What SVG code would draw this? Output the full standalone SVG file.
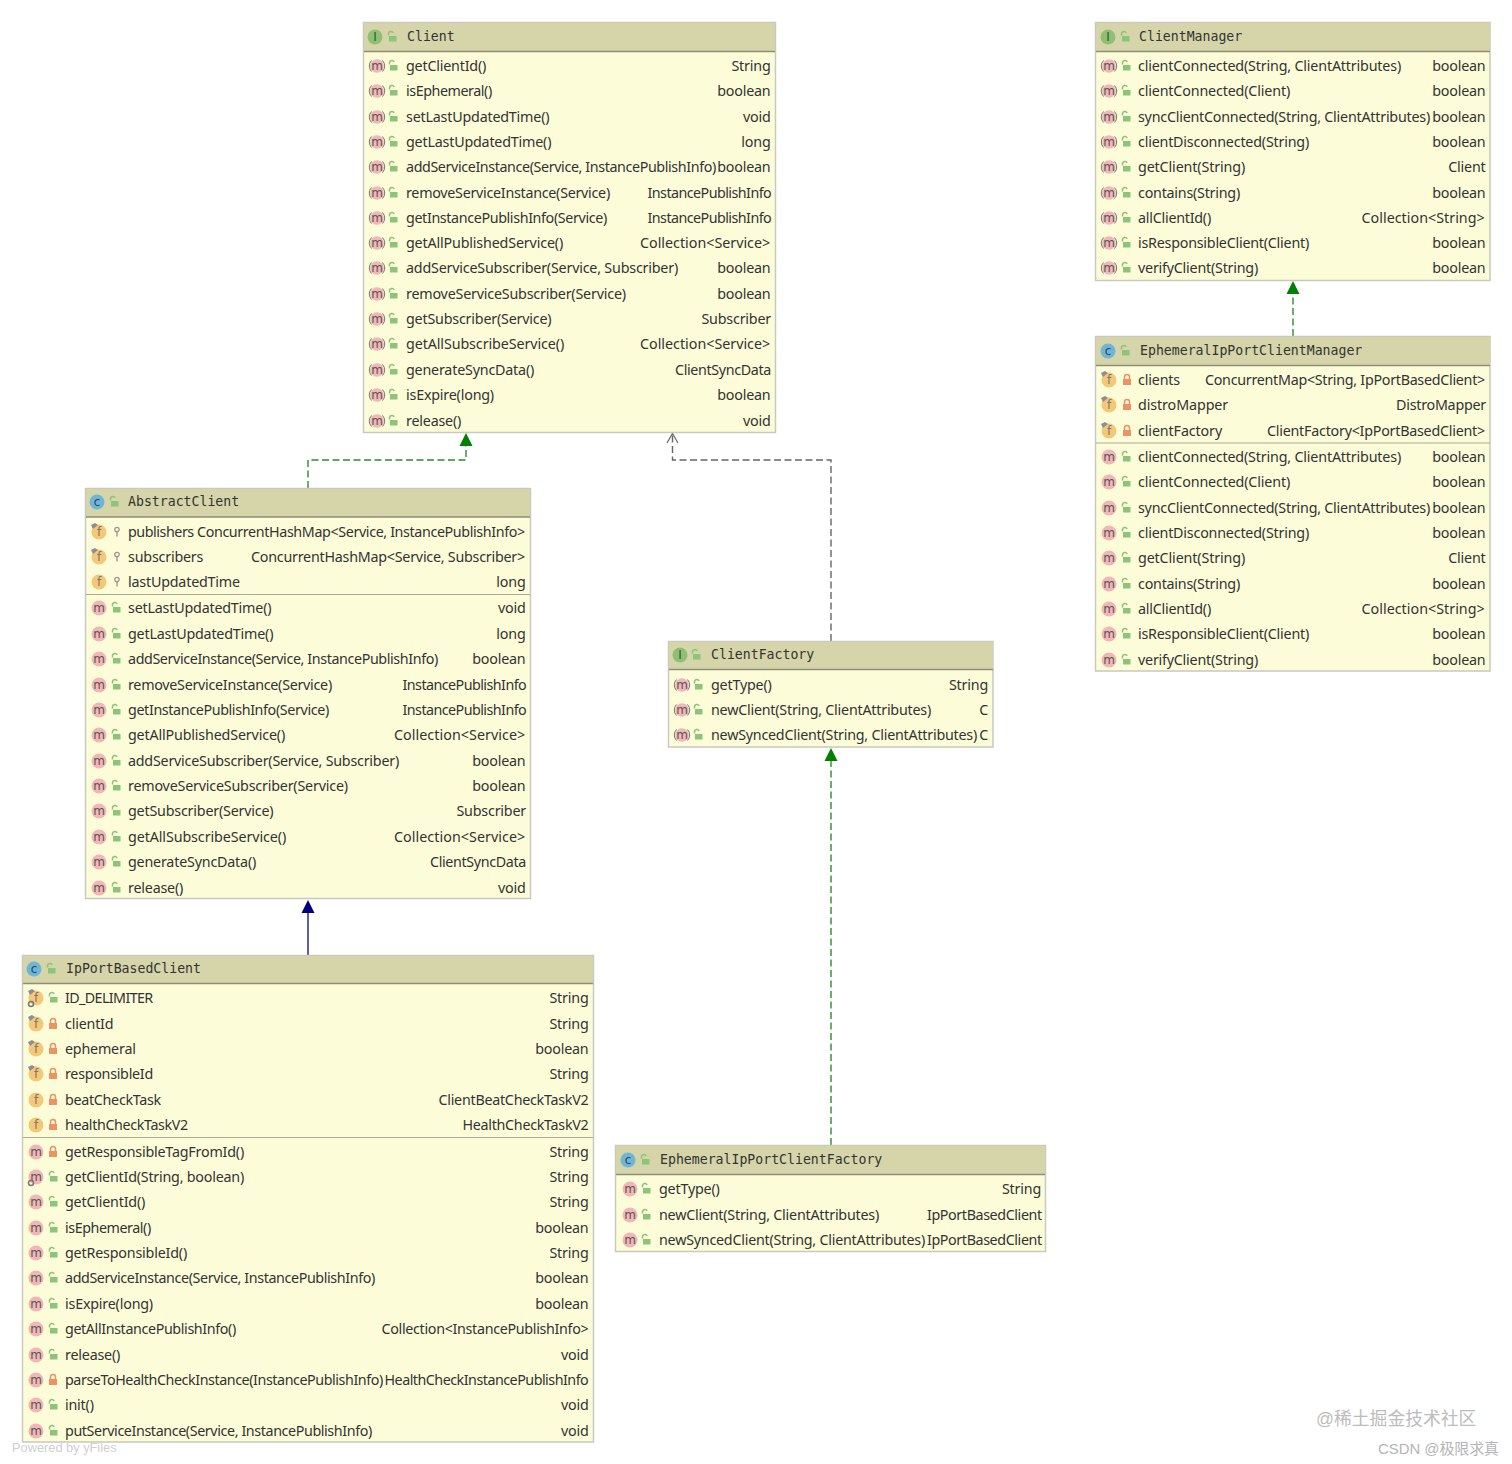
<svg xmlns="http://www.w3.org/2000/svg" width="1512" height="1464" viewBox="0 0 1512 1464">
<style>
.box{fill:#fcfcd8;stroke:#c9c9c0;stroke-width:1.5}
.hd{fill:#d5d5a9}
.ln{stroke:#8e8e7a;stroke-width:1.5}
.sep{stroke:#a9a99c;stroke-width:1.2}
.h{font:13.2px "DejaVu Sans Mono",monospace;fill:#333}
.n,.t{font:14.3px "Noto Sans","Liberation Sans",sans-serif;fill:#333;letter-spacing:-.2px}
.t{text-anchor:end}
.ic{font:12px "DejaVu Sans",sans-serif;text-anchor:middle}
.c{fill:none;stroke-width:1.4;stroke-dasharray:7 3.5}
.wm{font-family:"Liberation Sans","Noto Sans CJK SC",sans-serif}
</style>
<defs>
<g id="m"><circle r="7.500" fill="#f3b6b6"/><text class="ic" y="3.800" fill="#555">m</text></g>
<g id="am"><circle r="6.800" fill="#f3b6b6"/><path d="M-5.500-5.500A8 8 0 0 0-5.500 5.500M5.500-5.500A8 8 0 0 1 5.500 5.500" fill="none" stroke="#777" stroke-width="1"/><text class="ic" y="3.800" fill="#555">m</text></g>
<g id="f"><circle r="7.500" fill="#f5c878"/><text class="ic" y="4" fill="#777">f</text></g>
<g id="pin"><path d="M-8-7L-4-9-1-7-6-3Z" fill="#8d8d95"/></g>
<g id="gear"><circle cx="-5" cy="6" r="2.500" fill="none" stroke="#777" stroke-width="1.500"/></g>
<g id="cc"><circle r="7.500" fill="#6fb5d8"/><text class="ic" y="4" fill="#345">c</text></g>
<g id="ii"><circle r="7.500" fill="#8fbe74"/><text class="ic" y="4" fill="#2f5a2f" font-family="DejaVu Serif">I</text></g>
<g id="pub"><path d="M-3.500-1.500V-3.500A2.500 2.500 0 0 1 1.200-4.200" fill="none" stroke="#8cc47a" stroke-width="1.500"/><rect x="-3" y="-1" width="7.500" height="5.500" fill="#8cc47a"/></g>
<g id="pri"><path d="M-2.500-1V-3A2.500 2.500 0 0 1 2.500-3V-1" fill="none" stroke="#ec9263" stroke-width="1.500"/><rect x="-4" y="-1" width="8" height="6" fill="#ec9263"/></g>
<g id="pro"><circle cy="-2.500" r="2.200" fill="none" stroke="#999" stroke-width="1.300"/><path d="M0-.5V4.500" stroke="#999" stroke-width="1.400"/></g>
</defs>

<g id="connectors">
<path class="c" stroke="#2e8b2e" d="M308 488V460H466V445"/>
<path d="M466 433L472.500 446H459.500Z" fill="#008000"/>
<path class="c" stroke="#666" d="M831 641V460H672.500V434"/>
<path d="M667 443L672.500 433.500L678 443" fill="none" stroke="#666" stroke-width="1.200"/>
<path class="c" stroke="#2e8b2e" d="M831 1145V760"/>
<path d="M831 748L837.500 761H824.500Z" fill="#008000"/>
<path d="M308 955V912" stroke="#1a1a80" stroke-width="1.400" fill="none"/>
<path d="M308 900L314.500 913H301.500Z" fill="#000080"/>
<path class="c" stroke="#2e8b2e" d="M1293 336V293"/>
<path d="M1293 281L1299.500 294H1286.500Z" fill="#008000"/>
</g>

<g id="node-client">
<rect class="box" x="363.500" y="22.500" width="412" height="410"/><rect class="hd" x="364" y="23" width="411" height="28"/><path class="ln" d="M364 51.500H775"/>
<use href="#ii" x="375" y="37"/><use href="#pub" x="392" y="37"/><text class="h" x="407" y="41">Client</text>
<use href="#am" x="377" y="66"/><use href="#pub" x="393" y="66"/><text class="n" x="406" y="71">getClientId()</text><text class="t" x="770.500" y="71">String</text>
<use href="#am" x="377" y="91"/><use href="#pub" x="393" y="91"/><text class="n" x="406" y="96" textLength="86">isEphemeral()</text><text class="t" x="770.500" y="96">boolean</text>
<use href="#am" x="377" y="117"/><use href="#pub" x="393" y="117"/><text class="n" x="406" y="122">setLastUpdatedTime()</text><text class="t" x="770.500" y="122">void</text>
<use href="#am" x="377" y="142"/><use href="#pub" x="393" y="142"/><text class="n" x="406" y="147">getLastUpdatedTime()</text><text class="t" x="770.500" y="147">long</text>
<use href="#am" x="377" y="167"/><use href="#pub" x="393" y="167"/><text class="n" x="406" y="172" textLength="310">addServiceInstance(Service, InstancePublishInfo)</text><text class="t" x="770.500" y="172">boolean</text>
<use href="#am" x="377" y="193"/><use href="#pub" x="393" y="193"/><text class="n" x="406" y="198" textLength="204">removeServiceInstance(Service)</text><text class="t" x="771.500" y="198" textLength="124">InstancePublishInfo</text>
<use href="#am" x="377" y="218"/><use href="#pub" x="393" y="218"/><text class="n" x="406" y="223" textLength="201">getInstancePublishInfo(Service)</text><text class="t" x="771.500" y="223" textLength="124">InstancePublishInfo</text>
<use href="#am" x="377" y="243"/><use href="#pub" x="393" y="243"/><text class="n" x="406" y="248" textLength="157">getAllPublishedService()</text><text class="t" x="770" y="248" textLength="130">Collection&lt;Service&gt;</text>
<use href="#am" x="377" y="268"/><use href="#pub" x="393" y="268"/><text class="n" x="406" y="273">addServiceSubscriber(Service, Subscriber)</text><text class="t" x="770.500" y="273">boolean</text>
<use href="#am" x="377" y="294"/><use href="#pub" x="393" y="294"/><text class="n" x="406" y="299">removeServiceSubscriber(Service)</text><text class="t" x="770.500" y="299">boolean</text>
<use href="#am" x="377" y="319"/><use href="#pub" x="393" y="319"/><text class="n" x="406" y="324">getSubscriber(Service)</text><text class="t" x="771" y="324">Subscriber</text>
<use href="#am" x="377" y="344"/><use href="#pub" x="393" y="344"/><text class="n" x="406" y="349" textLength="158">getAllSubscribeService()</text><text class="t" x="770" y="349" textLength="130">Collection&lt;Service&gt;</text>
<use href="#am" x="377" y="370"/><use href="#pub" x="393" y="370"/><text class="n" x="406" y="375">generateSyncData()</text><text class="t" x="771" y="375" textLength="96">ClientSyncData</text>
<use href="#am" x="377" y="395"/><use href="#pub" x="393" y="395"/><text class="n" x="406" y="400">isExpire(long)</text><text class="t" x="770.500" y="400">boolean</text>
<use href="#am" x="377" y="421"/><use href="#pub" x="393" y="421"/><text class="n" x="406" y="426">release()</text><text class="t" x="770.500" y="426">void</text>
</g>

<g id="node-abstractclient">
<rect class="box" x="85.500" y="488.500" width="445" height="410"/><rect class="hd" x="86" y="489" width="444" height="28"/><path class="ln" d="M86 517H530"/><path class="sep" d="M86 594.500H530"/>
<use href="#cc" x="97" y="502"/><use href="#pub" x="114" y="502"/><text class="h" x="128" y="506">AbstractClient</text>
<use href="#f" x="99" y="532"/><use href="#pin" x="99" y="532"/><use href="#pro" x="117" y="532"/><text class="n" x="128" y="537" textLength="66">publishers</text><text class="t" x="525" y="537" textLength="328">ConcurrentHashMap&lt;Service, InstancePublishInfo&gt;</text>
<use href="#f" x="99" y="557"/><use href="#pin" x="99" y="557"/><use href="#pro" x="117" y="557"/><text class="n" x="128" y="562">subscribers</text><text class="t" x="525" y="562" textLength="274">ConcurrentHashMap&lt;Service, Subscriber&gt;</text>
<use href="#f" x="99" y="582"/><use href="#pro" x="117" y="582"/><text class="n" x="128" y="587">lastUpdatedTime</text><text class="t" x="525.500" y="587">long</text>
<use href="#m" x="99" y="608"/><use href="#pub" x="116" y="608"/><text class="n" x="128" y="613">setLastUpdatedTime()</text><text class="t" x="525.500" y="613">void</text>
<use href="#m" x="99" y="634"/><use href="#pub" x="116" y="634"/><text class="n" x="128" y="639">getLastUpdatedTime()</text><text class="t" x="525.500" y="639">long</text>
<use href="#m" x="99" y="659"/><use href="#pub" x="116" y="659"/><text class="n" x="128" y="664" textLength="310">addServiceInstance(Service, InstancePublishInfo)</text><text class="t" x="525.500" y="664">boolean</text>
<use href="#m" x="99" y="685"/><use href="#pub" x="116" y="685"/><text class="n" x="128" y="690" textLength="204">removeServiceInstance(Service)</text><text class="t" x="526.500" y="690" textLength="124">InstancePublishInfo</text>
<use href="#m" x="99" y="710"/><use href="#pub" x="116" y="710"/><text class="n" x="128" y="715" textLength="201">getInstancePublishInfo(Service)</text><text class="t" x="526.500" y="715" textLength="124">InstancePublishInfo</text>
<use href="#m" x="99" y="735"/><use href="#pub" x="116" y="735"/><text class="n" x="128" y="740" textLength="157">getAllPublishedService()</text><text class="t" x="525" y="740" textLength="131">Collection&lt;Service&gt;</text>
<use href="#m" x="99" y="761"/><use href="#pub" x="116" y="761"/><text class="n" x="128" y="766" textLength="271">addServiceSubscriber(Service, Subscriber)</text><text class="t" x="525.500" y="766">boolean</text>
<use href="#m" x="99" y="786"/><use href="#pub" x="116" y="786"/><text class="n" x="128" y="791">removeServiceSubscriber(Service)</text><text class="t" x="525.500" y="791">boolean</text>
<use href="#m" x="99" y="811"/><use href="#pub" x="116" y="811"/><text class="n" x="128" y="816">getSubscriber(Service)</text><text class="t" x="526" y="816">Subscriber</text>
<use href="#m" x="99" y="837"/><use href="#pub" x="116" y="837"/><text class="n" x="128" y="842" textLength="158">getAllSubscribeService()</text><text class="t" x="525" y="842" textLength="131">Collection&lt;Service&gt;</text>
<use href="#m" x="99" y="862"/><use href="#pub" x="116" y="862"/><text class="n" x="128" y="867">generateSyncData()</text><text class="t" x="526" y="867" textLength="96">ClientSyncData</text>
<use href="#m" x="99" y="888"/><use href="#pub" x="116" y="888"/><text class="n" x="128" y="893">release()</text><text class="t" x="525.500" y="893">void</text>
</g>

<g id="node-ipportbasedclient">
<rect class="box" x="22.500" y="955.500" width="571" height="486.500"/><rect class="hd" x="23" y="956" width="570" height="27"/><path class="ln" d="M23 983.500H593"/><path class="sep" d="M23 1137.500H593"/>
<use href="#cc" x="34" y="969"/><use href="#pub" x="51" y="969"/><text class="h" x="66" y="973">IpPortBasedClient</text>
<use href="#f" x="36" y="998"/><use href="#pin" x="36" y="998"/><use href="#gear" x="36" y="998"/><use href="#pub" x="53" y="998"/><text class="n" x="65" y="1003" textLength="88">ID_DELIMITER</text><text class="t" x="588.500" y="1003">String</text>
<use href="#f" x="36" y="1024"/><use href="#pin" x="36" y="1024"/><use href="#pri" x="53" y="1024"/><text class="n" x="65" y="1029">clientId</text><text class="t" x="588.500" y="1029">String</text>
<use href="#f" x="36" y="1049"/><use href="#pin" x="36" y="1049"/><use href="#pri" x="53" y="1049"/><text class="n" x="65" y="1054">ephemeral</text><text class="t" x="588.500" y="1054">boolean</text>
<use href="#f" x="36" y="1074"/><use href="#pin" x="36" y="1074"/><use href="#pri" x="53" y="1074"/><text class="n" x="65" y="1079" textLength="88">responsibleId</text><text class="t" x="588.500" y="1079">String</text>
<use href="#f" x="36" y="1100"/><use href="#pri" x="53" y="1100"/><text class="n" x="65" y="1105" textLength="96">beatCheckTask</text><text class="t" x="588.500" y="1105" textLength="150">ClientBeatCheckTaskV2</text>
<use href="#f" x="36" y="1125"/><use href="#pri" x="53" y="1125"/><text class="n" x="65" y="1130" textLength="123">healthCheckTaskV2</text><text class="t" x="588.500" y="1130" textLength="126">HealthCheckTaskV2</text>
<use href="#m" x="36" y="1152"/><use href="#pri" x="53" y="1152"/><text class="n" x="65" y="1157" textLength="179">getResponsibleTagFromId()</text><text class="t" x="588.500" y="1157">String</text>
<use href="#m" x="36" y="1177"/><use href="#gear" x="36" y="1177"/><use href="#pub" x="53" y="1177"/><text class="n" x="65" y="1182" textLength="179">getClientId(String, boolean)</text><text class="t" x="588.500" y="1182">String</text>
<use href="#m" x="36" y="1202"/><use href="#pub" x="53" y="1202"/><text class="n" x="65" y="1207">getClientId()</text><text class="t" x="588.500" y="1207">String</text>
<use href="#m" x="36" y="1228"/><use href="#pub" x="53" y="1228"/><text class="n" x="65" y="1233" textLength="86">isEphemeral()</text><text class="t" x="588.500" y="1233">boolean</text>
<use href="#m" x="36" y="1253"/><use href="#pub" x="53" y="1253"/><text class="n" x="65" y="1258" textLength="122">getResponsibleId()</text><text class="t" x="588.500" y="1258">String</text>
<use href="#m" x="36" y="1278"/><use href="#pub" x="53" y="1278"/><text class="n" x="65" y="1283" textLength="310">addServiceInstance(Service, InstancePublishInfo)</text><text class="t" x="588.500" y="1283">boolean</text>
<use href="#m" x="36" y="1304"/><use href="#pub" x="53" y="1304"/><text class="n" x="65" y="1309">isExpire(long)</text><text class="t" x="588.500" y="1309">boolean</text>
<use href="#m" x="36" y="1329"/><use href="#pub" x="53" y="1329"/><text class="n" x="65" y="1334" textLength="171">getAllInstancePublishInfo()</text><text class="t" x="588.500" y="1334" textLength="207">Collection&lt;InstancePublishInfo&gt;</text>
<use href="#m" x="36" y="1355"/><use href="#pub" x="53" y="1355"/><text class="n" x="65" y="1360">release()</text><text class="t" x="588.500" y="1360">void</text>
<use href="#m" x="36" y="1380"/><use href="#pri" x="53" y="1380"/><text class="n" x="65" y="1385" textLength="318">parseToHealthCheckInstance(InstancePublishInfo)</text><text class="t" x="588.500" y="1385" textLength="204">HealthCheckInstancePublishInfo</text>
<use href="#m" x="36" y="1405"/><use href="#pub" x="53" y="1405"/><text class="n" x="65" y="1410">init()</text><text class="t" x="588.500" y="1410">void</text>
<use href="#m" x="36" y="1431"/><use href="#pub" x="53" y="1431"/><text class="n" x="65" y="1436" textLength="307">putServiceInstance(Service, InstancePublishInfo)</text><text class="t" x="588.500" y="1436">void</text>
</g>

<g id="node-clientfactory">
<rect class="box" x="668.500" y="641.500" width="324.500" height="105.500"/><rect class="hd" x="669" y="642" width="324" height="27"/><path class="ln" d="M669 669.500H993"/>
<use href="#ii" x="680" y="655"/><use href="#pub" x="696" y="655"/><text class="h" x="711" y="659">ClientFactory</text>
<use href="#am" x="682" y="685"/><use href="#pub" x="698" y="685"/><text class="n" x="711" y="689.500">getType()</text><text class="t" x="988" y="689.500">String</text>
<use href="#am" x="682" y="710"/><use href="#pub" x="698" y="710"/><text class="n" x="711" y="715" textLength="220">newClient(String, ClientAttributes)</text><text class="t" x="988" y="715">C</text>
<use href="#am" x="682" y="735"/><use href="#pub" x="698" y="735"/><text class="n" x="711" y="739.500" textLength="266">newSyncedClient(String, ClientAttributes)</text><text class="t" x="988" y="739.500">C</text>
</g>

<g id="node-ephemeralipportclientfactory">
<rect class="box" x="615.500" y="1145.500" width="430" height="106"/><rect class="hd" x="616" y="1146" width="429" height="28"/><path class="ln" d="M616 1174.500H1045"/>
<use href="#cc" x="628" y="1160"/><use href="#pub" x="645" y="1160"/><text class="h" x="660" y="1164">EphemeralIpPortClientFactory</text>
<use href="#m" x="630" y="1189"/><use href="#pub" x="646" y="1189"/><text class="n" x="659" y="1194">getType()</text><text class="t" x="1041" y="1194">String</text>
<use href="#m" x="630" y="1215"/><use href="#pub" x="646" y="1215"/><text class="n" x="659" y="1219.500" textLength="220">newClient(String, ClientAttributes)</text><text class="t" x="1042" y="1219.500" textLength="115">IpPortBasedClient</text>
<use href="#m" x="630" y="1240"/><use href="#pub" x="646" y="1240"/><text class="n" x="659" y="1245" textLength="266">newSyncedClient(String, ClientAttributes)</text><text class="t" x="1042" y="1245" textLength="115">IpPortBasedClient</text>
</g>

<g id="node-clientmanager">
<rect class="box" x="1095.500" y="22.500" width="394.500" height="258"/><rect class="hd" x="1096" y="23" width="394" height="28"/><path class="ln" d="M1096 51.500H1490"/>
<use href="#ii" x="1108" y="37"/><use href="#pub" x="1125" y="37"/><text class="h" x="1139" y="41">ClientManager</text>
<use href="#am" x="1109" y="66"/><use href="#pub" x="1126" y="66"/><text class="n" x="1138" y="71" textLength="263">clientConnected(String, ClientAttributes)</text><text class="t" x="1485.500" y="71">boolean</text>
<use href="#am" x="1109" y="91"/><use href="#pub" x="1126" y="91"/><text class="n" x="1138" y="96" textLength="152">clientConnected(Client)</text><text class="t" x="1485.500" y="96">boolean</text>
<use href="#am" x="1109" y="117"/><use href="#pub" x="1126" y="117"/><text class="n" x="1138" y="122" textLength="292">syncClientConnected(String, ClientAttributes)</text><text class="t" x="1485.500" y="122">boolean</text>
<use href="#am" x="1109" y="142"/><use href="#pub" x="1126" y="142"/><text class="n" x="1138" y="147" textLength="171">clientDisconnected(String)</text><text class="t" x="1485.500" y="147">boolean</text>
<use href="#am" x="1109" y="167"/><use href="#pub" x="1126" y="167"/><text class="n" x="1138" y="172" textLength="107">getClient(String)</text><text class="t" x="1485.500" y="172">Client</text>
<use href="#am" x="1109" y="193"/><use href="#pub" x="1126" y="193"/><text class="n" x="1138" y="198" textLength="102">contains(String)</text><text class="t" x="1485.500" y="198">boolean</text>
<use href="#am" x="1109" y="218"/><use href="#pub" x="1126" y="218"/><text class="n" x="1138" y="223" textLength="73">allClientId()</text><text class="t" x="1484.500" y="223" textLength="123">Collection&lt;String&gt;</text>
<use href="#am" x="1109" y="243"/><use href="#pub" x="1126" y="243"/><text class="n" x="1138" y="248" textLength="171">isResponsibleClient(Client)</text><text class="t" x="1485.500" y="248">boolean</text>
<use href="#am" x="1109" y="268"/><use href="#pub" x="1126" y="268"/><text class="n" x="1138" y="273" textLength="120">verifyClient(String)</text><text class="t" x="1485.500" y="273">boolean</text>
</g>

<g id="node-ephemeralipportclientmanager">
<rect class="box" x="1095.500" y="336.500" width="394.500" height="334.500"/><rect class="hd" x="1096" y="337" width="394" height="28"/><path class="ln" d="M1096 365.500H1490"/><path class="sep" d="M1096 443H1490"/>
<use href="#cc" x="1108" y="351"/><use href="#pub" x="1125" y="351"/><text class="h" x="1140" y="355">EphemeralIpPortClientManager</text>
<use href="#f" x="1109" y="380"/><use href="#pin" x="1109" y="380"/><use href="#pri" x="1127" y="380"/><text class="n" x="1138" y="385" textLength="42">clients</text><text class="t" x="1485" y="385" textLength="280">ConcurrentMap&lt;String, IpPortBasedClient&gt;</text>
<use href="#f" x="1109" y="405"/><use href="#pin" x="1109" y="405"/><use href="#pri" x="1127" y="405"/><text class="n" x="1138" y="410" textLength="90">distroMapper</text><text class="t" x="1486" y="410" textLength="90">DistroMapper</text>
<use href="#f" x="1109" y="431"/><use href="#pin" x="1109" y="431"/><use href="#pri" x="1127" y="431"/><text class="n" x="1138" y="436" textLength="84">clientFactory</text><text class="t" x="1485" y="436" textLength="218">ClientFactory&lt;IpPortBasedClient&gt;</text>
<use href="#m" x="1109" y="457"/><use href="#pub" x="1126" y="457"/><text class="n" x="1138" y="462" textLength="263">clientConnected(String, ClientAttributes)</text><text class="t" x="1485.500" y="462">boolean</text>
<use href="#m" x="1109" y="482"/><use href="#pub" x="1126" y="482"/><text class="n" x="1138" y="487" textLength="152">clientConnected(Client)</text><text class="t" x="1485.500" y="487">boolean</text>
<use href="#m" x="1109" y="508"/><use href="#pub" x="1126" y="508"/><text class="n" x="1138" y="513" textLength="292">syncClientConnected(String, ClientAttributes)</text><text class="t" x="1485.500" y="513">boolean</text>
<use href="#m" x="1109" y="533"/><use href="#pub" x="1126" y="533"/><text class="n" x="1138" y="538" textLength="171">clientDisconnected(String)</text><text class="t" x="1485.500" y="538">boolean</text>
<use href="#m" x="1109" y="558"/><use href="#pub" x="1126" y="558"/><text class="n" x="1138" y="563" textLength="107">getClient(String)</text><text class="t" x="1485.500" y="563">Client</text>
<use href="#m" x="1109" y="584"/><use href="#pub" x="1126" y="584"/><text class="n" x="1138" y="589" textLength="102">contains(String)</text><text class="t" x="1485.500" y="589">boolean</text>
<use href="#m" x="1109" y="609"/><use href="#pub" x="1126" y="609"/><text class="n" x="1138" y="614" textLength="73">allClientId()</text><text class="t" x="1484.500" y="614" textLength="123">Collection&lt;String&gt;</text>
<use href="#m" x="1109" y="634"/><use href="#pub" x="1126" y="634"/><text class="n" x="1138" y="639" textLength="171">isResponsibleClient(Client)</text><text class="t" x="1485.500" y="639">boolean</text>
<use href="#m" x="1109" y="660"/><use href="#pub" x="1126" y="660"/><text class="n" x="1138" y="665" textLength="120">verifyClient(String)</text><text class="t" x="1485.500" y="665">boolean</text>
</g>

<text class="wm" x="12" y="1452" font-size="12.800" fill="#cfcfcf">Powered by yFiles</text>
<text class="wm" x="1316" y="1425" font-size="17.800" fill="#bcbcbc">@稀土掘金技术社区</text>
<text class="wm" x="1378" y="1454" font-size="14.900" fill="#b5b5b5">CSDN @极限求真</text>
</svg>
